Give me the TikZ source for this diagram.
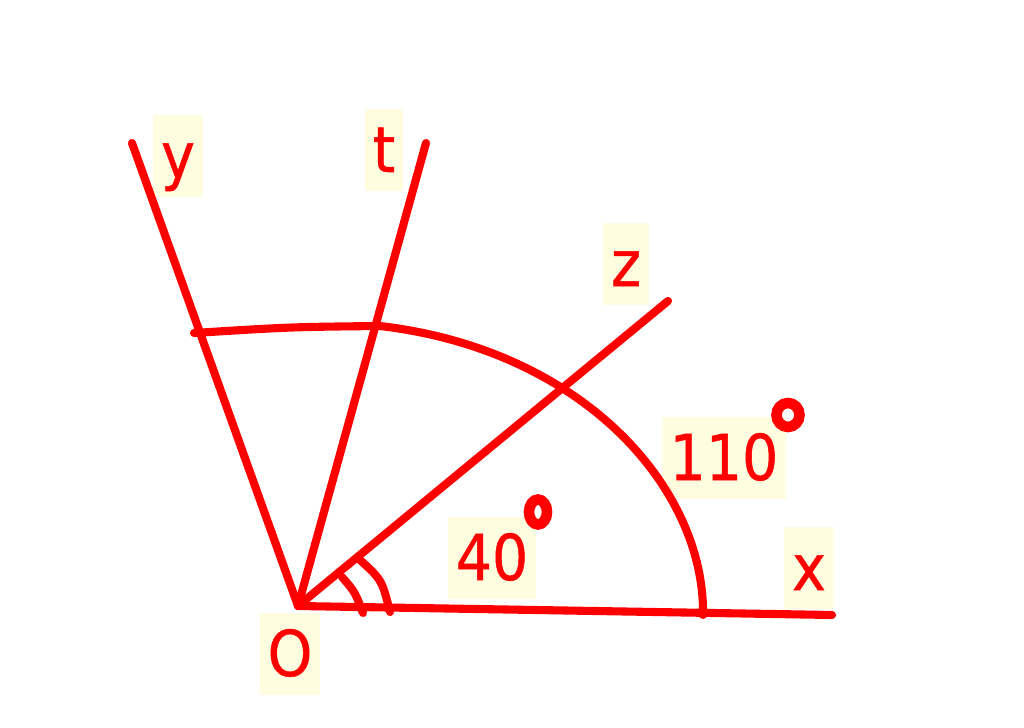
\documentclass[tikz,border=0pt]{standalone}
\usepackage{fontspec}
\setmainfont{DejaVu Sans Condensed}
\definecolor{nen}{RGB}{255,253,224}
\begin{document}
\begin{tikzpicture}[x=0.01cm,y=-0.01cm,
	tia/.style={line width=2.3pt, red, line cap=round},
	nhan/.style={fill=nen, text=red, font=\fontsize{18pt}{20pt}\selectfont\addfontfeature{FakeBold=0.8}, inner xsep=0.08cm, inner ysep=0.01cm, text height=0.62cm, text depth=0.18cm},
	dokieu/.style={line width=3pt, red}]
	\useasboundingbox (0,0) rectangle (1024,728);
	
	\coordinate (O) at (298,606);
	\coordinate (X) at (832,615);
	\coordinate (Y) at (132,143);
	\coordinate (T) at (426,143);
	\coordinate (Z) at (668,301);
	
	%Beschriftung
	\node[nhan] (ly) at (178,156) {y};
	\node[nhan] (lt) at (384,150) {t};
	\node[nhan] (lz) at (626,264) {z};
	\node[nhan] (lx) at (809,568) {x};
	\node[nhan] (lO) at (290,654) {O};
	\node[nhan] (l40) at (492,558) {40};
	\node[nhan] (l110) at (724,458) {110};
	
	%Strahlen
	\draw[tia] (O) -- (X);
	\draw[tia] (O) -- (Y);
	\draw[tia] (O) -- (T);
	\draw[tia] (O) -- (Z);
	
	%Bogen
	\coordinate (E) at (194,333);
	\coordinate (e) at (290,327);
	\coordinate (F) at (380,326);
	\coordinate (G) at (703,615);
	\draw[tia] (E) .. controls (e) .. (F) .. controls (585,350) and (705,490) .. (G);
	
	%Winkelzeichen
	\coordinate (A) at (342,577);
	\coordinate (a) at (355,592);
	\coordinate (B) at (363,613);
	\draw[tia] (A) .. controls (a) .. (B);
	\coordinate (C) at (359,559);
	\coordinate (c) at (382,580);
	\coordinate (D) at (390,612);
	\draw[tia] (C) .. controls (c) .. (D);
	
	%Gradzeichen
	\draw[dokieu] (538,512) ellipse [x radius=9, y radius=12.5];
	\draw[dokieu] (788,415) ellipse [x radius=11.5, y radius=12];
\end{tikzpicture}
\end{document}
